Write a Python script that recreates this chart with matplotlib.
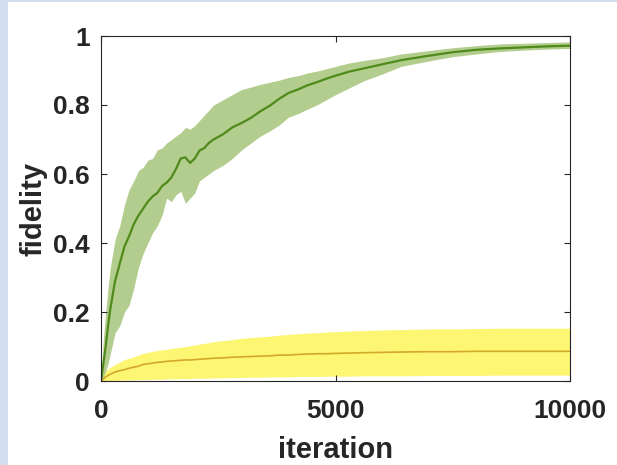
import numpy as np
import matplotlib.pyplot as plt
from matplotlib.patches import Rectangle

iters = [0, 50, 100, 150, 200, 250, 300, 400, 500, 600, 700, 800, 900, 1000,
         1100, 1200, 1300, 1400, 1500, 1600, 1700, 1800, 1900, 2000, 2100,
         2200, 2300, 2400, 2600, 2800, 3000, 3200, 3400, 3600, 3800, 4000,
         4200, 4400, 4600, 4800, 5000, 5300, 5600, 6000, 6400, 7000, 7500,
         8000, 8500, 9000, 9500, 10000]

green_mean = [0, 0.05, 0.10, 0.16, 0.21, 0.25, 0.29, 0.34, 0.39, 0.42, 0.455,
              0.48, 0.50, 0.52, 0.535, 0.545, 0.565, 0.575, 0.59, 0.615, 0.645,
              0.648, 0.632, 0.645, 0.668, 0.675, 0.69, 0.70, 0.715, 0.735,
              0.748, 0.763, 0.782, 0.798, 0.818, 0.835, 0.845, 0.857, 0.866,
              0.876, 0.885, 0.897, 0.906, 0.918, 0.93, 0.943, 0.953, 0.96,
              0.964, 0.967, 0.97, 0.972]
green_hi = [0, 0.12, 0.20, 0.27, 0.33, 0.37, 0.41, 0.45, 0.51, 0.555, 0.58,
            0.61, 0.62, 0.64, 0.645, 0.67, 0.675, 0.69, 0.70, 0.71, 0.72,
            0.735, 0.73, 0.74, 0.755, 0.77, 0.785, 0.80, 0.815, 0.83, 0.845,
            0.852, 0.86, 0.866, 0.872, 0.88, 0.885, 0.893, 0.898, 0.905,
            0.912, 0.922, 0.929, 0.937, 0.948, 0.958, 0.966, 0.972, 0.977,
            0.979, 0.981, 0.983]
green_lo = [0, 0.01, 0.03, 0.05, 0.08, 0.11, 0.14, 0.16, 0.20, 0.22, 0.27,
            0.33, 0.37, 0.40, 0.43, 0.45, 0.48, 0.53, 0.52, 0.54, 0.55, 0.515,
            0.53, 0.545, 0.58, 0.59, 0.60, 0.61, 0.625, 0.645, 0.67, 0.69,
            0.71, 0.725, 0.742, 0.765, 0.775, 0.788, 0.80, 0.815, 0.83, 0.85,
            0.87, 0.89, 0.912, 0.928, 0.94, 0.948, 0.955, 0.959, 0.962, 0.964]

yellow_mean = [0, 0.006, 0.012, 0.016, 0.02, 0.023, 0.026, 0.03, 0.033, 0.037,
               0.04, 0.043, 0.048, 0.05, 0.052, 0.054, 0.055, 0.057, 0.058,
               0.059, 0.06, 0.061, 0.061, 0.062, 0.063, 0.064, 0.065, 0.066,
               0.067, 0.069, 0.07, 0.071, 0.072, 0.073, 0.075, 0.075, 0.077,
               0.078, 0.079, 0.079, 0.08, 0.081, 0.082, 0.083, 0.084, 0.085,
               0.085, 0.086, 0.086, 0.086, 0.086, 0.086]
yellow_hi = [0, 0.02, 0.03, 0.035, 0.04, 0.044, 0.048, 0.055, 0.062, 0.066,
             0.07, 0.075, 0.08, 0.083, 0.086, 0.088, 0.09, 0.092, 0.094, 0.096,
             0.098, 0.1, 0.102, 0.104, 0.107, 0.109, 0.111, 0.114, 0.117, 0.12,
             0.124, 0.126, 0.128, 0.13, 0.133, 0.135, 0.137, 0.139, 0.14,
             0.142, 0.143, 0.145, 0.146, 0.148, 0.149, 0.151, 0.151, 0.152,
             0.153, 0.153, 0.153, 0.153]
yellow_lo = [0, 0, 0, 0, 0.001, 0.001, 0.002, 0.002, 0.003, 0.003, 0.003,
             0.004, 0.004, 0.004, 0.005, 0.005, 0.005, 0.006, 0.006, 0.006,
             0.007, 0.007, 0.007, 0.008, 0.008, 0.008, 0.008, 0.009, 0.009,
             0.01, 0.01, 0.011, 0.011, 0.012, 0.012, 0.012, 0.013, 0.013,
             0.013, 0.014, 0.014, 0.014, 0.015, 0.015, 0.015, 0.016, 0.016,
             0.016, 0.017, 0.017, 0.017, 0.017]

plt.rcParams['font.family'] = ['Liberation Sans', 'DejaVu Sans']
plt.rcParams['font.weight'] = 'bold'

fig = plt.figure(figsize=(6.17, 4.65), dpi=100, facecolor='#d3dfef')
fig.patches.append(Rectangle((8 / 617, 0), 1, 463 / 465, transform=fig.transFigure,
                             facecolor='white', edgecolor='none', zorder=-1))
ax = fig.add_axes([101 / 617, 84 / 465, 469 / 617, 345 / 465])

ax.fill_between(iters, yellow_lo, yellow_hi, color='#fdf672', lw=0)
ax.plot(iters, yellow_mean, color='#d4a829', lw=1.2)
ax.fill_between(iters, green_lo, green_hi, color='#b3cd8e', lw=0)
ax.plot(iters, green_mean, color='#4f8a1a', lw=1.6)

ax.set_xlim(0, 10000)
ax.set_ylim(0, 1)
ax.set_xticks([0, 5000, 10000])
ax.set_yticks([0, 0.2, 0.4, 0.6, 0.8, 1])
ax.set_yticklabels(['0', '0.2', '0.4', '0.6', '0.8', '1'])
ax.tick_params(direction='in', length=4, width=0.8, top=True, right=True,
               labelsize=19, colors='#262626')
ax.tick_params(axis='x', pad=13)
ax.tick_params(axis='y', pad=8)
for s in ax.spines.values():
    s.set_linewidth(0.8)
    s.set_color('#262626')

ax.set_xlabel('iteration', fontsize=21, fontweight='bold', color='#262626', labelpad=9)
ax.set_ylabel('fidelity', fontsize=21, fontweight='bold', color='#262626', labelpad=4)

fig.savefig('out.png', dpi=100, facecolor=fig.get_facecolor())
